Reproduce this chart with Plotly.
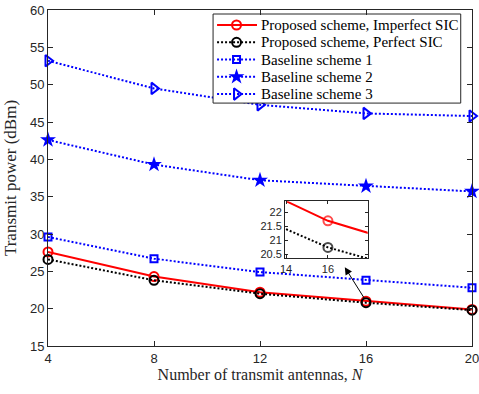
import plotly.graph_objects as go

N = [4, 8, 12, 16, 20]
imperfect_sic = [27.6, 24.3, 22.2, 21.0, 19.9]
perfect_sic = [26.6, 23.8, 22.0, 20.8, 19.8]
baseline1 = [29.6, 26.7, 24.9, 23.8, 22.8]
baseline2 = [42.6, 39.3, 37.2, 36.4, 35.7]
baseline3 = [53.2, 49.5, 47.3, 46.15, 45.8]

N_inset = [14, 16, 18]
imperfect_inset = [22.4, 21.7, 21.25]
perfect_inset = [21.4, 20.75, 20.33]

x_ticks = [4, 8, 12, 16, 20]
y_ticks = [15, 20, 25, 30, 35, 40, 45, 50, 55, 60]

legend_labels = ["Proposed scheme, Imperfect SIC", "Proposed scheme, Perfect SIC",
                 "Baseline scheme 1", "Baseline scheme 2", "Baseline scheme 3"]

AX = "#262626"
RED = "#ff0000"
BLUE = "#0000ff"
DOT = "2px,2px"

styles = [
    dict(line=dict(color=RED, width=2), marker=dict(symbol="circle-open", size=9, color=RED, line=dict(width=2))),
    dict(line=dict(color="black", width=2, dash=DOT), marker=dict(symbol="circle-open", size=9, color="black", line=dict(width=2))),
    dict(line=dict(color=BLUE, width=2, dash=DOT), marker=dict(symbol="square-open", size=7, color=BLUE, line=dict(width=2))),
    dict(line=dict(color=BLUE, width=2, dash=DOT), marker=dict(symbol="star", size=12, color=BLUE)),
    dict(line=dict(color=BLUE, width=2, dash=DOT), marker=dict(symbol="triangle-right-open", size=10, color=BLUE, line=dict(width=2))),
]
series = [imperfect_sic, perfect_sic, baseline1, baseline2, baseline3]

fig = go.Figure()
for lab, ys, st in zip(legend_labels, series, styles):
    fig.add_trace(go.Scatter(x=N, y=ys, name=lab, mode="lines+markers", showlegend=False,
                             cliponaxis=False, **st))

# inset
fig.add_trace(go.Scatter(x=N_inset, y=imperfect_inset, xaxis="x2", yaxis="y2", showlegend=False,
    mode="lines+markers", line=dict(color=RED, width=2),
    marker=dict(symbol="circle-open", size=[0, 9, 0], color=RED, line=dict(width=2))))
fig.add_trace(go.Scatter(x=N_inset, y=perfect_inset, xaxis="x2", yaxis="y2", showlegend=False,
    mode="lines+markers", line=dict(color="black", width=2, dash=DOT),
    marker=dict(symbol="circle-open", size=[0, 9, 0], color="black", line=dict(width=2))))

# manual legend on an overlay axis measured in pixels of the page
LX0, LX1, LY0, LY1 = 213, 461, 14, 103
fig.add_trace(go.Scatter(x=[LX0, LX1, LX1, LX0, LX0], y=[LY0, LY0, LY1, LY1, LY0], xaxis="x3", yaxis="y3",
    mode="lines", fill="toself", fillcolor="white", line=dict(color=AX, width=1),
    showlegend=False, hoverinfo="skip"))
row_y0, row_dy = 25.0, 17.25
for i, (lab, st) in enumerate(zip(legend_labels, styles)):
    yy = row_y0 + i * row_dy
    fig.add_trace(go.Scatter(x=[217, 257], y=[yy, yy], xaxis="x3", yaxis="y3", mode="lines",
                             line=st["line"], showlegend=False, hoverinfo="skip"))
    fig.add_trace(go.Scatter(x=[236.5], y=[yy], xaxis="x3", yaxis="y3", mode="markers",
                             marker=st["marker"], showlegend=False, hoverinfo="skip"))
    fig.add_annotation(x=259, y=yy, xref="x3", yref="y3", text=lab, showarrow=False,
                       xanchor="left", yanchor="middle",
                       font=dict(family="Liberation Serif, Times New Roman", size=15, color="black"))

axis_common = dict(showgrid=False, zeroline=False, showline=True, linecolor=AX, linewidth=1,
                   mirror="ticks", ticks="inside", ticklen=5, tickcolor=AX, automargin=False,
                   ticklabeloverflow="allow",
                   tickfont=dict(family="Liberation Sans, Arial", size=13, color=AX))
inset_axis = {**axis_common, "tickfont": dict(family="Liberation Sans, Arial", size=11, color=AX), "ticklen": 3}

fig.update_layout(
    width=479, height=394,
    margin=dict(l=48, r=7, t=10, b=48, autoexpand=False),
    paper_bgcolor="white", plot_bgcolor="white",
    xaxis=dict(range=[4, 20], tickvals=x_ticks, domain=[0, 1],
               title=dict(text="Number of transmit antennas, <i>N</i>", standoff=4,
                          font=dict(family="Liberation Serif, Times New Roman", size=16, color=AX)),
               **axis_common),
    yaxis=dict(range=[15, 60], tickvals=y_ticks, domain=[0, 1],
               title=dict(text="Transmit power (dBm)", standoff=8,
                          font=dict(family="Liberation Serif, Times New Roman", size=17, color=AX)),
               **axis_common),
    xaxis2=dict(range=[13.95, 17.9], tickvals=[14, 16], domain=[0.559, 0.754], anchor="y2", **inset_axis),
    yaxis2=dict(range=[20.36, 22.4], tickvals=[20.5, 21, 21.5, 22], domain=[0.261, 0.431], anchor="x2", **inset_axis),
    xaxis3=dict(range=[47.7, 472.3], overlaying="x", visible=False, fixedrange=True),
    yaxis3=dict(range=[345.7, 10], overlaying="y", visible=False, fixedrange=True),
    showlegend=False,
)

fig.add_annotation(x=15.2, y=25.55, xref="x", yref="y", ax=15.97, ay=21.2, axref="x", ayref="y",
                   showarrow=True, arrowhead=2, arrowsize=1.5, arrowwidth=1, arrowcolor="black", text="")

fig.write_html("out.html", config={"displayModeBar": False},
               post_script="document.body.style.margin='0';")
